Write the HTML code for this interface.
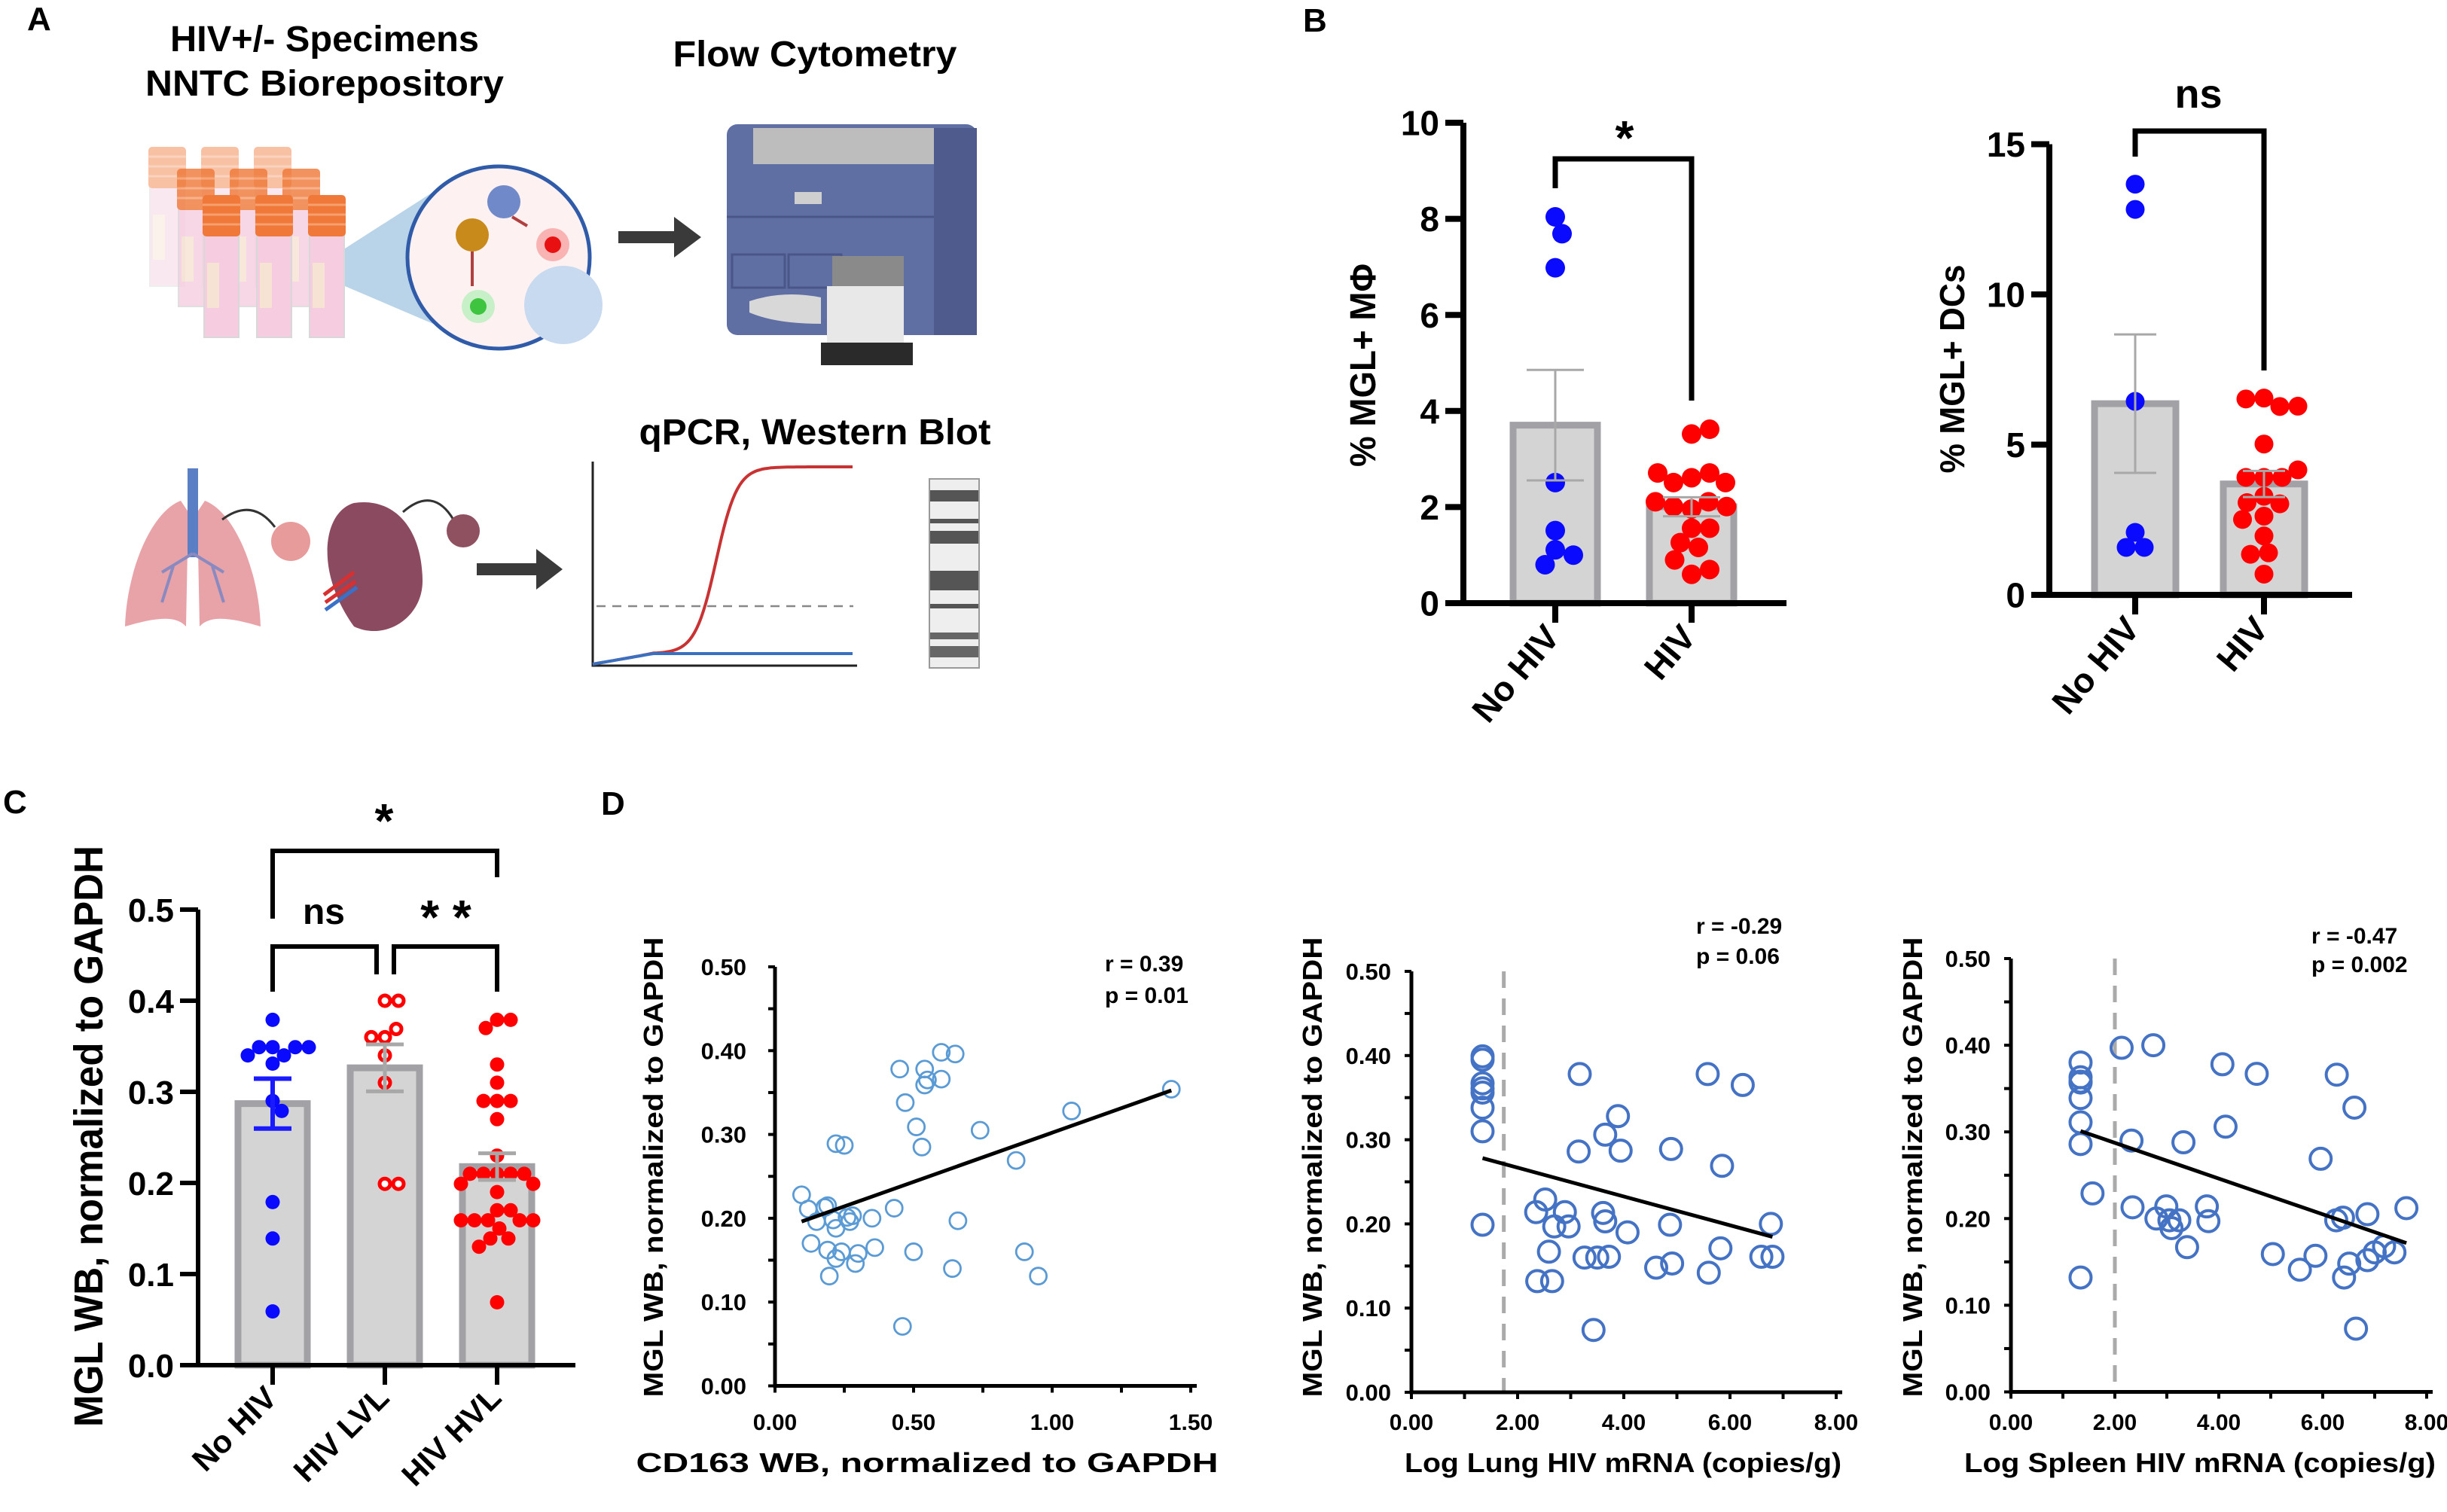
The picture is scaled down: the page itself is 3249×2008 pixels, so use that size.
<!DOCTYPE html>
<html><head><meta charset="utf-8"><style>
html,body{margin:0;padding:0;background:#fff;}
svg{display:block;font-family:"Liberation Sans",Arial,sans-serif;}
text{font-weight:bold;fill:#000;}
</style></head><body>
<svg id="fig" xmlns="http://www.w3.org/2000/svg" width="3249" height="2008" viewBox="0 0 3249 2008">
<rect width="3249" height="2008" fill="#fff"/>
<!-- Panel A illustration -->
<g>
  <text x="36" y="40" font-size="44">A</text>
  <text x="431" y="68" font-size="48" text-anchor="middle" textLength="410" lengthAdjust="spacingAndGlyphs">HIV+/- Specimens</text>
  <text x="431" y="127" font-size="48" text-anchor="middle" textLength="476" lengthAdjust="spacingAndGlyphs">NNTC Biorepository</text>
  <text x="1082" y="88" font-size="48" text-anchor="middle" textLength="377" lengthAdjust="spacingAndGlyphs">Flow Cytometry</text>
  <text x="1082" y="590" font-size="48" text-anchor="middle" textLength="467" lengthAdjust="spacingAndGlyphs">qPCR, Western Blot</text>
  <g id="tubes"></g>
  <polygon points="458,330 575,255 575,430 458,380" fill="#b9d3e8"/>
  <circle cx="662" cy="342" r="121" fill="#fdf1f1" stroke="#2f5ba8" stroke-width="5"/>
  <circle cx="748" cy="405" r="52" fill="#c8daf0"/>
  <circle cx="627" cy="312" r="22" fill="#c88a1a"/>
  <circle cx="669" cy="268" r="22" fill="#7089c8"/>
  <circle cx="734" cy="325" r="22" fill="#f9b3b3"/>
  <circle cx="734" cy="325" r="11" fill="#e81010"/>
  <circle cx="635" cy="407" r="22" fill="#c8f0c8"/>
  <circle cx="635" cy="407" r="11" fill="#3ec43e"/>
  <path d="M627,334 L627,380 M680,288 L700,300" stroke="#b04040" stroke-width="4"/>
  <line x1="821" y1="315" x2="897" y2="315" stroke="#3a3a3a" stroke-width="16"/>
  <polygon points="895,288 931,315 895,342" fill="#3a3a3a"/>
  <g>
    <rect x="965" y="165" width="332" height="280" rx="14" fill="#5f6ea3"/>
    <rect x="1000" y="170" width="240" height="48" fill="#bdbdbd"/>
    <rect x="1240" y="170" width="57" height="275" fill="#4e5b8c"/>
    <rect x="1055" y="255" width="36" height="16" fill="#cfcfcf"/>
    <line x1="965" y1="288" x2="1240" y2="288" stroke="#4a5688" stroke-width="3"/>
    <rect x="972" y="338" width="70" height="44" fill="none" stroke="#4a5688" stroke-width="3"/>
    <rect x="1047" y="338" width="70" height="44" fill="none" stroke="#4a5688" stroke-width="3"/>
    <path d="M995,400 Q1040,385 1090,395 L1090,430 Q1030,430 995,415 Z" fill="#d8d8d8"/>
    <rect x="1105" y="340" width="95" height="45" fill="#8a8a8a"/>
    <rect x="1098" y="380" width="102" height="80" fill="#e8e8e8"/>
    <rect x="1090" y="455" width="122" height="30" fill="#2a2a2a"/>
  </g>
  <g>
    <path d="M240,665 C200,680 168,760 166,832 C200,822 232,815 247,832 L250,680 Z" fill="#e8a3a8"/>
    <path d="M272,665 C312,680 344,760 346,832 C312,822 280,815 265,832 L262,680 Z" fill="#e8a3a8"/>
    <rect x="249" y="622" width="14" height="118" fill="#5b7fc4"/>
    <path d="M256,735 L215,760 M256,735 L297,760 M230,752 L215,800 M282,752 L297,800" stroke="#8a8ac0" stroke-width="4" fill="none"/>
  </g>
  <path d="M295,690 Q335,660 365,700" stroke="#333" stroke-width="3" fill="none"/>
  <circle cx="386" cy="719" r="26" fill="#e79b9b"/>
  <g>
    <path d="M470,668 C428,680 418,760 470,832 C512,852 562,820 561,770 C560,700 522,660 470,668 Z" fill="#8b4a60"/>
    <path d="M430,790 L470,760 M432,800 L472,772" stroke="#d83030" stroke-width="5"/>
    <path d="M432,810 L474,780" stroke="#3a70c8" stroke-width="5"/>
  </g>
  <path d="M535,680 Q575,645 602,690" stroke="#333" stroke-width="3" fill="none"/>
  <circle cx="615" cy="705" r="22" fill="#8f5060"/>
  <line x1="633" y1="756" x2="714" y2="756" stroke="#3a3a3a" stroke-width="16"/>
  <polygon points="712,729 747,756 712,783" fill="#3a3a3a"/>
  <path d="M787,613 L787,884 L1138,884" stroke="#222" stroke-width="3" fill="none"/>
  <line x1="792" y1="805" x2="1133" y2="805" stroke="#888" stroke-width="2.5" stroke-dasharray="12 9"/>
  <path id="qpcrRed" stroke="#c83232" stroke-width="4" fill="none"/>
  <path id="qpcrBlue" stroke="#3a70c0" stroke-width="4" fill="none"/>
  <g>
    <rect x="1234" y="636" width="66" height="251" fill="#eeeeee" stroke="#999" stroke-width="2"/>
    <rect x="1235" y="651" width="64" height="15" fill="#555"/>
    <rect x="1235" y="689" width="64" height="6" fill="#555"/>
    <rect x="1235" y="705" width="64" height="17" fill="#555"/>
    <rect x="1235" y="758" width="64" height="26" fill="#555"/>
    <rect x="1235" y="802" width="64" height="6" fill="#555"/>
    <rect x="1235" y="840" width="64" height="9" fill="#666"/>
    <rect x="1235" y="858" width="64" height="15" fill="#666"/>
  </g>
</g>
<g id="panelB">
  <text x="1730" y="42" font-size="44">B</text>
</g>
<g id="panelC">
  <text x="4" y="1080" font-size="44">C</text>
</g>
<g id="panelD">
  <text x="798" y="1082" font-size="44">D</text>
</g>
</svg>
<script>
// ---------- Panel B data ----------
const b1Categories = ["No HIV", "HIV"];
const b1NoHiv = [8.04, 7.69, 6.98, 2.51, 1.51, 1.11, 1.0, 0.8];
const b1Hiv = [3.52, 3.62, 2.61, 2.71, 2.51, 2.51, 2.71, 1.96, 2.11, 2.01, 2.01, 2.11, 1.56, 1.56, 1.26, 1.16, 0.9, 0.6, 0.7];
const b1Ticks = [0, 2, 4, 6, 8, 10];
const b2Categories = ["No HIV", "HIV"];
const b2NoHiv = [13.67, 12.83, 6.44, 2.08, 1.58, 1.58];
const b2Hiv = [6.55, 6.27, 6.52, 6.28, 5.02, 3.91, 3.91, 3.91, 4.16, 3.28, 3.03, 3.07, 2.62, 2.51, 1.96, 1.40, 1.35, 0.69];
const b2Ticks = [0, 5, 10, 15];
// ---------- Panel C data ----------
const cCategories = ["No HIV", "HIV LVL", "HIV HVL"];
const cNoHiv = [0.379, 0.349, 0.340, 0.349, 0.349, 0.340, 0.349, 0.331, 0.290, 0.279, 0.179, 0.139, 0.059];
const cLvl = [0.400, 0.400, 0.360, 0.369, 0.360, 0.340, 0.310, 0.199, 0.199];
const cHvl = [0.379, 0.379, 0.370, 0.330, 0.310, 0.290, 0.290, 0.290, 0.270, 0.230, 0.210, 0.210, 0.210, 0.210, 0.210, 0.199, 0.199, 0.190, 0.170, 0.170, 0.159, 0.159, 0.159, 0.159, 0.159, 0.150, 0.139, 0.139, 0.130, 0.069];
const cTicks = [0, 0.1, 0.2, 0.3, 0.4, 0.5];
// ---------- Panel D data ----------
const d1X = [0.096,0.12,0.15,0.18,0.19,0.13,0.19,0.196,0.21,0.22,0.22,0.24,0.22,0.25,0.26,0.27,0.28,0.29,0.30,0.35,0.36,0.43,0.45,0.46,0.47,0.50,0.51,0.53,0.54,0.54,0.55,0.60,0.60,0.65,0.64,0.66,0.74,0.87,0.90,0.95,1.07,1.43];
const d1Y = [0.228,0.211,0.196,0.213,0.215,0.170,0.162,0.131,0.198,0.188,0.152,0.160,0.289,0.287,0.201,0.196,0.203,0.146,0.158,0.200,0.165,0.212,0.378,0.071,0.338,0.160,0.309,0.285,0.378,0.359,0.365,0.366,0.398,0.396,0.140,0.197,0.305,0.269,0.160,0.131,0.328,0.354];
const d1XTicks = [0, 0.5, 1.0, 1.5];
const d2X = [1.34,1.34,1.34,1.34,1.34,1.34,1.34,1.34,3.17,3.15,3.65,3.89,3.94,2.52,2.35,2.89,2.69,2.96,3.61,3.65,4.07,2.59,2.37,2.65,3.26,3.50,3.72,3.43,4.89,4.87,4.61,4.91,5.58,6.24,5.85,5.82,5.60,6.77,6.59,6.80];
const d2Y = [0.399,0.395,0.367,0.361,0.356,0.338,0.310,0.199,0.378,0.286,0.306,0.328,0.287,0.229,0.214,0.214,0.197,0.197,0.213,0.203,0.190,0.167,0.132,0.132,0.160,0.160,0.161,0.074,0.289,0.199,0.148,0.153,0.378,0.365,0.269,0.171,0.142,0.200,0.161,0.161];
const d2Threshold = 1.74;
const d3X = [1.34,1.34,1.34,1.34,1.34,1.34,1.34,1.34,1.57,2.13,2.74,2.32,2.34,2.80,2.99,3.05,3.09,3.24,3.32,3.39,3.77,3.80,4.07,4.13,4.73,5.04,5.56,5.86,5.96,6.27,6.61,6.26,6.39,6.41,6.51,6.86,6.86,7.00,7.18,7.38,7.61,6.64];
const d3Y = [0.380,0.363,0.358,0.357,0.339,0.311,0.286,0.132,0.229,0.397,0.400,0.290,0.213,0.200,0.214,0.198,0.189,0.198,0.288,0.167,0.214,0.197,0.378,0.306,0.367,0.159,0.141,0.157,0.269,0.366,0.328,0.198,0.201,0.132,0.148,0.205,0.152,0.161,0.168,0.161,0.212,0.073];
const d3Threshold = 2.0;
const dXTicks = [0, 2, 4, 6, 8];
const dYTicks = [0, 0.1, 0.2, 0.3, 0.4, 0.5];
const d1Stats = ["r = 0.39", "p = 0.01"];
const d2Stats = ["r  = -0.29", "p =  0.06"];
const d3Stats = ["r = -0.47", "p = 0.002"];

const NS = "http://www.w3.org/2000/svg";
function mk(tag, attrs, parent, txt) {
  const e = document.createElementNS(NS, tag);
  for (const k in attrs) e.setAttribute(k, attrs[k]);
  if (txt !== undefined) e.textContent = txt;
  parent.appendChild(e);
  return e;
}
function mean(a) { return a.reduce((s, v) => s + v, 0) / a.length; }
function sem(a) { const m = mean(a); const v = a.reduce((s, x) => s + (x - m) * (x - m), 0) / (a.length - 1); return Math.sqrt(v / a.length); }
function swarm(vals, cx, ys, r) {
  const placed = [];
  return vals.map(v => {
    const y = ys(v);
    for (let k = 0; k < 400; k++) {
      const off = (k % 2 ? 1 : -1) * Math.ceil(k / 2) * 1.5;
      const x = cx + off;
      if (placed.every(p => (p[0] - x) ** 2 + (p[1] - y) ** 2 >= (2 * r * 0.92) ** 2)) { placed.push([x, y]); return x; }
    }
    return cx;
  });
}

// qPCR curves (illustration)
(function () {
  let red = "", blue = "";
  for (let x = 787; x <= 1132; x += 3) {
    const yr = 882 - 248 / (1 + Math.exp(-(x - 951) / 14)) - 14 * Math.min(1, (x - 787) / 80);
    const yb = 882 - 14 * Math.min(1, (x - 787) / 80);
    red += (x === 787 ? "M" : "L") + x + "," + yr.toFixed(1);
    blue += (x === 787 ? "M" : "L") + x + "," + yb.toFixed(1);
  }
  document.getElementById("qpcrRed").setAttribute("d", red);
  document.getElementById("qpcrBlue").setAttribute("d", blue);
  const tg = document.getElementById("tubes");
  const rows = [[197, 195, 185, 0.45], [235, 224, 183, 0.8], [269, 259, 189, 1]];
  rows.forEach(rw => {
    for (let i = 0; i < 3; i++) {
      const x = rw[0] + i * 70;
      const g = mk("g", { opacity: rw[3] }, tg);
      
      
      mk("rect", { x: x + 2, y: rw[1] + 50, width: 46, height: rw[2] - 50, fill: "#f6cde0", stroke: "#d8d8d8", "stroke-width": 2 }, g);
      mk("rect", { x: x + 6, y: rw[1] + 90, width: 16, height: 60, fill: "#f6e3d3" }, g);
      mk("rect", { x: x, y: rw[1], width: 50, height: 55, rx: 5, fill: "#f07838" }, g);
      for (let j = 1; j < 4; j++) mk("line", { x1: x, x2: x + 50, y1: rw[1] + j * 13, y2: rw[1] + j * 13, stroke: "#f6a070", "stroke-width": 3 }, g);
    }
  });
})();

// ---------- Bar chart ----------
function barChart(o) {
  const g = o.parent;
  const ys = v => o.y0 - v * o.ppu;
  // y axis ticks
  o.ticks.forEach(t => {
    const tk = mk("line", { x1: o.ax - o.tickLen, x2: o.ax, y1: ys(t), y2: ys(t), stroke: "#000", "stroke-width": o.aw }, g);
    
    
    const tl = mk("text", { x: o.ax - o.tickLen - 8, y: ys(t) + o.tf * 0.36, "font-size": o.tf, "text-anchor": "end" }, g, o.fmt(t));
    
    
  });
  o.groups.forEach((gr, i) => {
    const cx = o.c0 + i * o.sp;
    const m = mean(gr.vals), s = sem(gr.vals);
    const bar = mk("rect", { x: cx - o.bw / 2, y: ys(m), width: o.bw, height: o.y0 - ys(m), fill: "#d4d4d4", stroke: "#a2a2a6", "stroke-width": o.bs }, g);
    
    
    const xs = swarm(gr.vals, cx, ys, o.r);
    gr.vals.forEach((v, j) => {
      const p = mk("circle", { cx: xs[j], cy: ys(v), r: gr.open ? o.r - 2.5 : o.r, fill: gr.open ? "#fff" : gr.color, stroke: gr.open ? gr.color : "none", "stroke-width": 5 }, g);
      
      
    });
    const ec = gr.errColor || "#a8a8a8";
    const ew = gr.errW || 3;
    const eb = mk("path", { d: `M${cx},${ys(m - s)}L${cx},${ys(m + s)}M${cx - o.cap},${ys(m + s)}L${cx + o.cap},${ys(m + s)}M${cx - o.cap},${ys(m - s)}L${cx + o.cap},${ys(m - s)}`, stroke: ec, "stroke-width": ew, fill: "none" }, g);
    
    
    const xt = mk("line", { x1: cx, x2: cx, y1: o.y0, y2: o.y0 + o.tickLen + 2, stroke: "#000", "stroke-width": o.aw }, g);
    
    
    const lx = cx + 8, ly = o.y0 + o.tickLen + 22;
    const xl = mk("text", { x: lx, y: ly, "font-size": o.xf, "text-anchor": "end", transform: `rotate(${o.rot} ${lx} ${ly})` }, g, o.cats[i]);
    
    
  });
  const axes = mk("path", { d: `M${o.ax},${ys(o.ticks[o.ticks.length - 1])}L${o.ax},${o.y0}L${o.xEnd},${o.y0}`, stroke: "#000", "stroke-width": o.aw, fill: "none" }, g);
  
  
  const yt = mk("text", { x: o.ytx, y: o.yty, "font-size": o.ytf, "text-anchor": "middle", textLength: o.ytl, lengthAdjust: "spacingAndGlyphs", transform: `rotate(-90 ${o.ytx} ${o.yty})` }, g, o.ytitle);
  
  
}
function bracket(parent, x1, x2, y, l1, l2, w, label, lx, ly, fs, weight) {
  const p = mk("path", { d: `M${x1},${l1}L${x1},${y}L${x2},${y}L${x2},${l2}`, stroke: "#000", "stroke-width": w, fill: "none" }, parent);
  
  
  const t = mk("text", { x: lx, y: ly, "font-size": fs, "text-anchor": "middle", "font-weight": weight }, parent, label);
  
  
}

const pB = document.getElementById("panelB");
barChart({ parent: pB, ax: 1943, y0: 801, ppu: 63.8, xEnd: 2372, c0: 2065, sp: 181, bw: 112, bs: 9, r: 13, cap: 38, aw: 8, tickLen: 24, tf: 46, fmt: t => String(t),
  ticks: b1Ticks, cats: b1Categories, xf: 46, rot: -50, ytitle: "% MGL+ MΦ", ytx: 1826, yty: 485, ytf: 48, ytl: 270,
  groups: [{ vals: b1NoHiv, color: "#0a0aff" }, { vals: b1Hiv, color: "#ff0000" }] });
bracket(pB, 2065, 2246, 211, 250, 532, 7, "*", 2157, 205, 64, "bold");
barChart({ parent: pB, ax: 2721, y0: 790, ppu: 39.9, xEnd: 3123, c0: 2835, sp: 171, bw: 108, bs: 9, r: 12.5, cap: 28, aw: 8, tickLen: 24, tf: 46, fmt: t => String(t),
  ticks: b2Ticks, cats: b2Categories, xf: 46, rot: -50, ytitle: "% MGL+ DCs", ytx: 2608, yty: 490, ytf: 46, ytl: 277,
  groups: [{ vals: b2NoHiv, color: "#0a0aff" }, { vals: b2Hiv, color: "#ff0000" }] });
bracket(pB, 2835, 3006, 174, 208, 492, 7, "ns", 2919, 143, 54, "normal");

const pC = document.getElementById("panelC");
barChart({ parent: pC, ax: 263, y0: 1813, ppu: 1210, xEnd: 764, c0: 362, sp: 149, bw: 92, bs: 9, r: 9.5, cap: 25, aw: 6, tickLen: 24, tf: 44, fmt: t => t.toFixed(1),
  ticks: cTicks, cats: cCategories, xf: 42, rot: -45, ytitle: "MGL WB, normalized to  GAPDH", ytx: 136, yty: 1509, ytf: 54, ytl: 772,
  groups: [{ vals: cNoHiv, color: "#0a0aff", errColor: "#1a1aff", errW: 6 }, { vals: cLvl, color: "#ff0000", open: true, errW: 5 }, { vals: cHvl, color: "#ff0000", errW: 5 }] });
bracket(pC, 362, 660, 1130, 1220, 1165, 6, "*", 510, 1112, 64, "bold");
bracket(pC, 362, 500, 1257, 1317, 1294, 6, "ns", 430, 1227, 48, "normal");
bracket(pC, 523, 660, 1257, 1294, 1317, 6, "* *", 592, 1240, 64, "bold");

// ---------- Scatter ----------
function scatter(o) {
  const g = mk("g", {}, document.getElementById("panelD"));
  
  
  const xs = v => o.ax + v * o.xp, ys = v => o.y0 - v * o.yp;
  for (let v = 0; v <= 0.5001; v += 0.05) {
    const tk = mk("line", { x1: o.ax - 9, x2: o.ax, y1: ys(v), y2: ys(v), stroke: "#000", "stroke-width": 4 }, g);
    
    
  }
  dYTicks.forEach(t => {
    const tl = mk("text", { x: o.ax - o.lg, y: ys(t) + 11, "font-size": 31, "text-anchor": "end" }, g, t.toFixed(2));
    
    
  });
  o.xt.forEach(t => {
    const tl = mk("text", { x: xs(t), y: 1899, "font-size": 30, "text-anchor": "middle" }, g, t.toFixed(2));
    
    
  });
  const last = o.xt[o.xt.length - 1];
  for (let v = 0; v <= last + 1e-6; v += o.minor) {
    const tk = mk("line", { x1: xs(v), x2: xs(v), y1: o.y0, y2: o.y0 + 9, stroke: "#000", "stroke-width": 4 }, g);
    
    
  }
  if (o.thr !== undefined) {
    const dl = mk("line", { x1: xs(o.thr), x2: xs(o.thr), y1: ys(0.5), y2: o.y0, stroke: "#aaa", "stroke-width": 5, "stroke-dasharray": "22 14" }, g);
    
    
  }
  o.X.forEach((x, i) => {
    const c = mk("circle", { cx: xs(x), cy: ys(o.Y[i]), r: o.r, fill: "none", stroke: o.color, "stroke-width": o.sw }, g);
    
    
  });
  const mx = mean(o.X), my = mean(o.Y);
  let sxy = 0, sxx = 0;
  o.X.forEach((x, i) => { sxy += (x - mx) * (o.Y[i] - my); sxx += (x - mx) ** 2; });
  const b = sxy / sxx, a = my - b * mx;
  const x0 = Math.min(...o.X), x1 = Math.max(...o.X);
  const rl = mk("line", { x1: xs(x0), y1: ys(a + b * x0), x2: xs(x1), y2: ys(a + b * x1), stroke: "#000", "stroke-width": 5 }, g);
  
  
  const ax = mk("path", { d: `M${o.ax},${ys(0.5)}L${o.ax},${o.y0}L${xs(last) + 8},${o.y0}`, stroke: "#000", "stroke-width": 5, fill: "none" }, g);
  
  
  o.stats.forEach((s, i) => {
    const t = mk("text", { x: o.sx, y: o.sy + i * o.sdy, "font-size": 30 }, g, s);
    
    
  });
  const xt = mk("text", { x: o.xtx, y: 1955, "font-size": 36, "text-anchor": "middle", textLength: o.xtl, lengthAdjust: "spacingAndGlyphs" }, g, o.xtitle);
  
  
  const yt = mk("text", { x: o.ytx, y: 1550, "font-size": 36, "text-anchor": "middle", textLength: 611, lengthAdjust: "spacingAndGlyphs", transform: `rotate(-90 ${o.ytx} 1550)` }, g, "MGL WB, normalized to GAPDH");
  
  
}
scatter({ name: "scatter-cd163", ax: 1029, y0: 1840.5, yp: 1113, xp: 368, X: d1X, Y: d1Y, xt: d1XTicks, minor: 0.25, r: 11, sw: 2.8, color: "#5b9bd5",
  lg: 38, stats: d1Stats, sx: 1467, sy: 1290, sdy: 42, xtitle: "CD163 WB, normalized to GAPDH", xtx: 1231, xtl: 773, ytx: 880 });
scatter({ name: "scatter-lung", ax: 1874, y0: 1849, yp: 1118, xp: 70.5, X: d2X, Y: d2Y, xt: dXTicks, minor: 1, r: 14, sw: 4, color: "#4472c4", thr: d2Threshold,
  lg: 27, stats: d2Stats, sx: 2252, sy: 1240, sdy: 40, xtitle: "Log Lung HIV mRNA (copies/g)", xtx: 2155, xtl: 580, ytx: 1755 });
scatter({ name: "scatter-spleen", ax: 2670, y0: 1848.5, yp: 1151, xp: 69, X: d3X, Y: d3Y, xt: dXTicks, minor: 1, r: 14, sw: 4, color: "#4472c4", thr: d3Threshold,
  lg: 27, stats: d3Stats, sx: 3069, sy: 1253, sdy: 38, xtitle: "Log Spleen HIV mRNA (copies/g)", xtx: 2921, xtl: 626, ytx: 2552 });
</script>
</body></html>
